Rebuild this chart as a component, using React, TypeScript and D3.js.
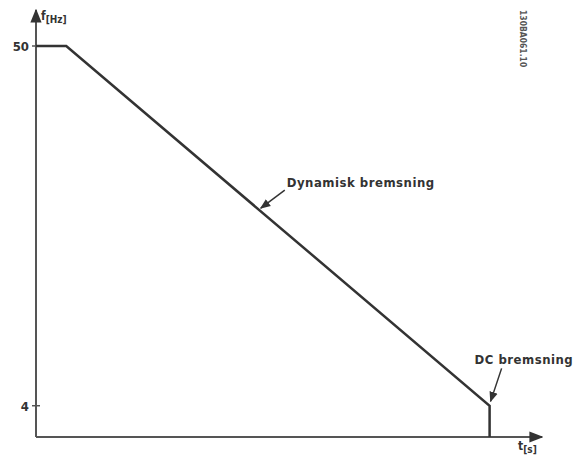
import React from 'react';
import * as d3 from 'd3';

// frequency profile during braking
const times = [0, 0.6, 9, 9];
const freqs = [50, 50, 4, 0];
const yTicks = [50, 4];
// arrow tip at (t, f), arrow tail offset (ax, ay), text offset (tx, ty)
const annotations = [
	{ text: 'Dynamisk bremsning', t: 4.44, f: 29.0, ax: 25, ay: -20, tx: 27, ty: -23 },
	{ text: 'DC bremsning', t: 9, f: 4.3, ax: 12, ay: -35, tx: -15, ty: -39 },
];

const W = 576;
const H = 458;
const x = d3.scaleLinear().domain([0, 10]).range([36, 540]);
const y = d3.scaleLinear().domain([0, 50]).range([437, 46]);

const font = "'DejaVu Sans Condensed', 'DejaVu Sans', sans-serif";

const App = () => {
	const line = d3.line<number>()
		.x((d, i) => x(times[i]))
		.y(d => y(d));
	return (
		<svg width={W} height={H} style={{ position: 'absolute', left: 0, top: 0, background: '#fff' }}>
			<defs>
				<marker id='arr' viewBox='0 0 10 10' refX='9' refY='5' markerWidth='7' markerHeight='7' orient='auto-start-reverse'>
					<path d='M0,1 L10,5 L0,9 z' fill='#333' />
				</marker>
			</defs>
			{/* axes */}
			<line x1={x(0)} y1={y(0)} x2={x(0)} y2={10} stroke='#555' strokeWidth={2} markerEnd='url(#arr)' />
			<line x1={x(0)} y1={y(0)} x2={542} y2={y(0)} stroke='#555' strokeWidth={2} markerEnd='url(#arr)' />
			{yTicks.map(t => (
				<g key={t}>
					<line x1={x(0) - 4} x2={x(0) + 4} y1={y(t)} y2={y(t)} stroke='#555' strokeWidth={1.5} />
					<text x={x(0) - 7} y={y(t) + 5} textAnchor='end' fontFamily={font} fontWeight='bold' fontSize={13} fill='#333'>{t}</text>
				</g>
			))}
			<text x={41} y={20} fontFamily={font} fontWeight='bold' fontSize={12} fill='#333'>
				f<tspan fontSize={10} dy={3}>[Hz]</tspan>
			</text>
			<text x={518} y={450} fontFamily={font} fontWeight='bold' fontSize={12} fill='#333'>
				t<tspan fontSize={10} dy={3}>[s]</tspan>
			</text>
			{/* curve */}
			<path d={line(freqs) || ''} fill='none' stroke='#333' strokeWidth={2.5} strokeLinejoin='miter' />
			{/* annotations */}
			{annotations.map(a => {
				const px = x(a.t);
				const py = y(a.f);
				return (
					<g key={a.text}>
						<line x1={px + a.ax} y1={py + a.ay} x2={px + 1} y2={py - 2} stroke='#333' strokeWidth={1.5} markerEnd='url(#arr)' />
						<text x={px + a.tx} y={py + a.ty} fontFamily={font} fontWeight='bold' fontSize={13} letterSpacing={0.5} fill='#333'>{a.text}</text>
					</g>
				);
			})}
			<text transform='translate(520,10) rotate(90)' fontFamily={font} fontWeight='bold' fontSize={8.5} fill='#555'>130BA061.10</text>
		</svg>
	);
};

export default App;
